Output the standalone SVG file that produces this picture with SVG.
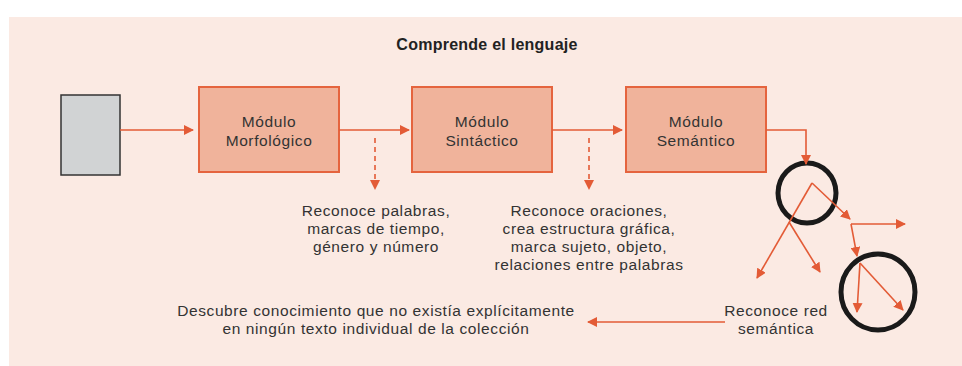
<svg xmlns="http://www.w3.org/2000/svg" width="962" height="366" viewBox="0 0 962 366">
<style>
.bg{fill:#fbeae3}
.mod{fill:#f0b39b;stroke:#e5643e;stroke-width:2}
.mt{font-family:"Liberation Sans",Arial,sans-serif;font-size:15.5px;letter-spacing:0.6px;fill:#333;text-anchor:middle}
.t{font-family:"Liberation Sans",Arial,sans-serif;font-size:15.5px;letter-spacing:0.6px;fill:#333;text-anchor:middle}
.title{font-family:"Liberation Sans",Arial,sans-serif;font-size:16px;letter-spacing:0.25px;font-weight:bold;fill:#222;text-anchor:middle}
.c{fill:none;stroke:#e35b36;stroke-width:1.6}
.d{fill:none;stroke:#e35b36;stroke-width:1.6;stroke-dasharray:5,4}
.ring{fill:none;stroke:#1a1a1a;stroke-width:5}
</style>
<defs>
<marker id="ah" viewBox="0 0 10 10" refX="9" refY="5" markerWidth="10" markerHeight="10" markerUnits="userSpaceOnUse" orient="auto">
<path d="M0,0 L10,5 L0,10 Z" fill="#e35b36"/>
</marker>
</defs>
<rect x="0" y="0" width="962" height="366" fill="#ffffff"/>
<rect class="bg" x="9" y="17" width="953" height="349"/>
<text class="title" x="487" y="50">Comprende el lenguaje</text>
<g id="input"><rect x="61" y="95" width="59" height="80" fill="#d1d3d4" stroke="#333" stroke-width="1.5"/></g>
<g id="morfologico"><rect class="mod" x="199" y="87" width="140" height="85"/><text class="mt" x="269" y="127">Módulo</text><text class="mt" x="269" y="146">Morfológico</text></g>
<g id="sintactico"><rect class="mod" x="412" y="87" width="140" height="85"/><text class="mt" x="482" y="127">Módulo</text><text class="mt" x="482" y="146">Sintáctico</text></g>
<g id="semantico"><rect class="mod" x="626" y="87" width="140" height="85"/><text class="mt" x="696" y="127">Módulo</text><text class="mt" x="696" y="146">Semántico</text></g>
<g id="ring1"><ellipse class="ring" cx="807" cy="193" rx="29" ry="30"/></g>
<g id="ring2"><ellipse class="ring" cx="878" cy="292" rx="37" ry="38"/></g>
<g id="labels">
<text class="t" x="376" y="216">Reconoce palabras,</text>
<text class="t" x="376" y="234">marcas de tiempo,</text>
<text class="t" x="376" y="252">género y número</text>
<text class="t" x="589" y="216">Reconoce oraciones,</text>
<text class="t" x="589" y="234">crea estructura gráfica,</text>
<text class="t" x="589" y="252">marca sujeto, objeto,</text>
<text class="t" x="589" y="270">relaciones entre palabras</text>
<text class="t" x="376" y="316">Descubre conocimiento que no existía explícitamente</text>
<text class="t" x="376" y="334">en ningún texto individual de la colección</text>
<text class="t" x="776" y="316">Reconoce red</text>
<text class="t" x="776" y="334">semántica</text>
</g>
<g id="connectors">
<line class="c" x1="120" y1="130" x2="193" y2="130" marker-end="url(#ah)"/>
<line class="c" x1="339" y1="130" x2="409" y2="130" marker-end="url(#ah)"/>
<line class="c" x1="552" y1="130" x2="622" y2="130" marker-end="url(#ah)"/>
<polyline class="c" points="766,130 806,130 806,164" marker-end="url(#ah)"/>
<line class="d" x1="375" y1="138" x2="375" y2="189" marker-end="url(#ah)"/>
<line class="d" x1="589" y1="138" x2="589" y2="189" marker-end="url(#ah)"/>
<line class="c" x1="812" y1="183" x2="757" y2="278" marker-end="url(#ah)"/>
<line class="c" x1="812" y1="183" x2="850" y2="219" marker-end="url(#ah)"/>
<line class="c" x1="789" y1="222" x2="820" y2="272" marker-end="url(#ah)"/>
<line class="c" x1="851" y1="224" x2="857" y2="256" marker-end="url(#ah)"/>
<line class="c" x1="851" y1="224" x2="905" y2="224" marker-end="url(#ah)"/>
<line class="c" x1="860" y1="263" x2="857" y2="312" marker-end="url(#ah)"/>
<line class="c" x1="860" y1="263" x2="903" y2="310" marker-end="url(#ah)"/>
<line class="c" x1="725" y1="322" x2="588" y2="322" marker-end="url(#ah)"/>
</g>
</svg>
